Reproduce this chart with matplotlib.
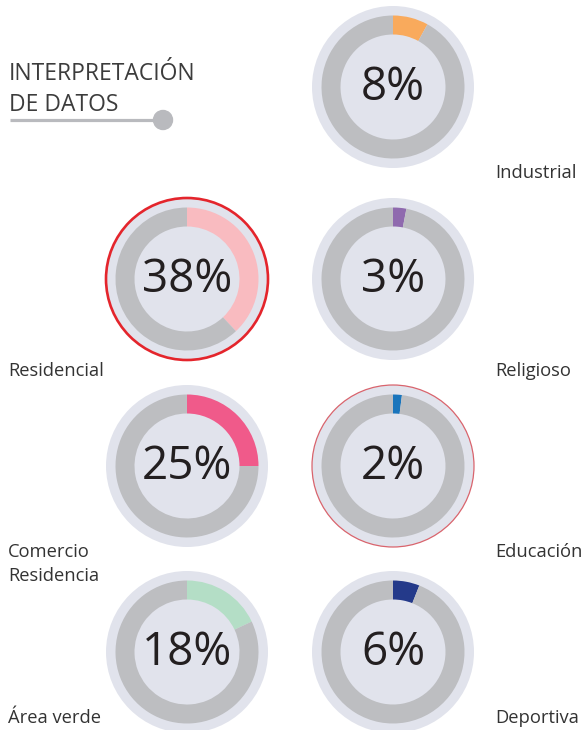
import matplotlib.pyplot as plt
from matplotlib.patches import Circle

plt.rcParams['font.family'] = ['Open Sans', 'DejaVu Sans']

# datos
categorias = ['Industrial', 'Residencial', 'Religioso', 'Comercio\nResidencia',
              'Educación', 'Área verde', 'Deportiva']
porcentajes = [8, 38, 3, 25, 2, 18, 6]
colores = ['#F9AA5C', '#F9BBC0', '#8F6AAE', '#F05A8A', '#1A75BC', '#B4DEC6', '#243A8A']

# posicion de cada dona (centro en pixeles) y de su etiqueta
centros = [(393, 87), (187, 279), (393, 279), (187, 466), (393, 466), (187, 652), (393, 652)]
etiquetas_xy = [(495, 173), (8, 371), (495, 371), (8, 564), (495, 552), (8, 718), (495, 718)]
bordes = {1: ('#E4252C', 1.9), 4: ('#D9646D', 0.9)}

W, H = 582, 730
fondo = '#E1E3EC'
gris = '#BDBEC1'
R = 84

fig = plt.figure(figsize=(W / 100, H / 100), dpi=100)
ax = fig.add_axes([0, 0, 1, 1])
ax.set_xlim(0, W)
ax.set_ylim(H, 0)
ax.axis('off')

# titulo
ax.text(9, 74, 'INTERPRETACIÓN', fontsize=16.5, color='#3C3C3C', va='center', ha='left')
ax.text(9, 105, 'DE DATOS', fontsize=16.5, color='#3C3C3C', va='center', ha='left')
ax.plot([10, 160], [120, 120], color='#B9BABE', lw=2.3, solid_capstyle='butt')
ax.add_patch(Circle((163, 120), 9.5, color='#B9BABE'))

for i, (cat, v, col) in enumerate(zip(categorias, porcentajes, colores)):
    cx, cy = centros[i]
    a = fig.add_axes([(cx - R) / W, 1 - (cy + R) / H, 2 * R / W, 2 * R / H])
    a.set_xlim(-R, R)
    a.set_ylim(-R, R)
    a.set_aspect('equal')
    a.axis('off')
    ec, lw = bordes.get(i, ('none', 0))
    a.add_patch(Circle((0, 0), 81, facecolor=fondo, edgecolor=ec, lw=lw, zorder=0))
    a.pie([v, 100 - v], colors=[col, gris], startangle=90, counterclock=False,
          radius=71.5, wedgeprops=dict(width=19, linewidth=0), frame=False)
    a.set_xlim(-R, R)
    a.set_ylim(-R, R)
    a.text(0, -1, f'{v}%', fontsize=33, color='#231F20', ha='center', va='center')

    lx, ly = etiquetas_xy[i]
    ax.text(lx, ly, cat, fontsize=13.2, color='#333333', ha='left', va='center',
            linespacing=1.37)

fig.savefig('out.png', dpi=100, facecolor='white')
